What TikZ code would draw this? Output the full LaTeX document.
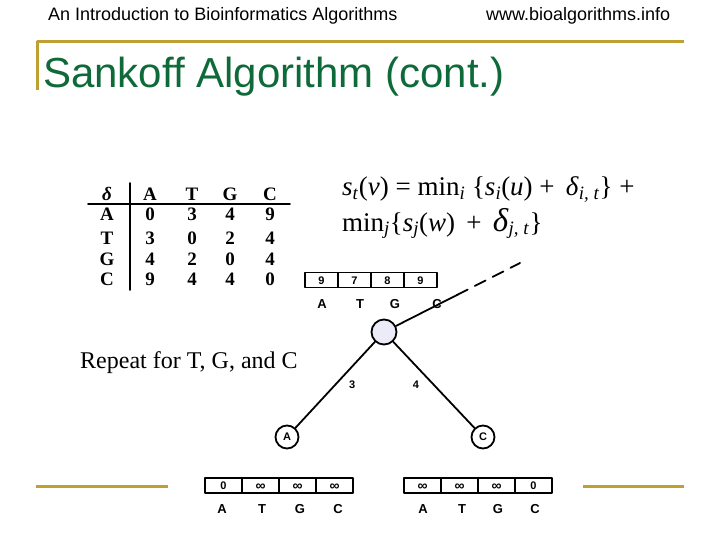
\documentclass[tikz,border=0pt]{standalone}
\usepackage{fontspec}
\setmainfont{Liberation Serif}
\setsansfont{Liberation Sans}
\usetikzlibrary{positioning}
\definecolor{slidegold}{RGB}{192,160,48}
\definecolor{slidegreen}{RGB}{15,106,58}
\definecolor{rootfill}{RGB}{236,236,248}
\newcommand{\fs}[1]{\fontsize{#1}{#1}\selectfont}
\newcommand{\sub}[1]{\textsubscript{\textit{#1}}}
\newcommand{\inft}{\raisebox{-1pt}{\fs{14}∞}}
\tikzset{
  txt/.style={inner sep=0pt, anchor=base west},
  tab/.style={inner sep=0pt, anchor=base, font=\fs{19}\bfseries},
  tnode/.style={circle, draw, line width=1.8pt, minimum size=23pt, inner sep=0pt, fill=white, font=\sffamily\bfseries\fs{11}},
  cell/.style={draw, line width=1.4pt, minimum height=15pt, inner sep=0pt, text height=8pt, text depth=0pt, font=\sffamily\bfseries\fs{11}},
  lbl/.style={inner sep=0pt, anchor=base, font=\sffamily\bfseries\fs{13}},
  edge/.style={line width=1.8pt},
  wlbl/.style={font=\sffamily\bfseries\fs{11}, inner sep=0pt}
}
\begin{document}
\begin{tikzpicture}[x=1pt,y=-1pt,line cap=round,line join=round]
\useasboundingbox[fill=white] (0,0) rectangle (720,540);
\node[txt, font=\sffamily\fs{18}] (hleft) at (48,21) {An Introduction to Bioinformatics Algorithms};
\node[txt, font=\sffamily\fs{18}] (hright) at (486,21) {www.bioalgorithms.info};
\draw[slidegold, line width=3pt, line cap=butt] (37,90) -- (37,42) -- (684,42);
\draw[slidegold, line width=3pt, line cap=butt] (36,486) -- (168,486);
\draw[slidegold, line width=3pt, line cap=butt] (583,486) -- (684,486);
\node[txt, font=\sffamily\fs{42}, text=slidegreen] (title) at (43,88) {Sankoff Algorithm (cont.)};
\node[tab] (d0) at (107,201) {\textit{δ}};
\foreach \name/\x in {A/150,T/192,G/230,C/270}
  \node[tab] (h\name) at (\x,201) {\name};
\foreach \name/\y/\a/\t/\g/\c in {A/221/0/3/4/9,T/244/3/0/2/4,G/265/4/2/0/4,C/285/9/4/4/0} {
  \node[tab] (r\name) at (107,\y) {\name};
  \node[tab] at (150,\y) {\a};
  \node[tab] at (192,\y) {\t};
  \node[tab] at (230,\y) {\g};
  \node[tab] at (270,\y) {\c};
}
\draw[line width=1.8pt] (130,183) -- (130,290);
\draw[line width=1.8pt] (88,204) -- (290,204);
\node[txt, font=\fs{27}] (f1) at (342,196) {\textit{s}\sub{t}(\textit{v}) = min\sub{i} \{\textit{s}\sub{i}(\textit{u}) + \,\textit{δ}\sub{i, t}\} +};
\node[txt, font=\fs{27}] (f2) at (342,231) {min\sub{j}\{\textit{s}\sub{j}(\textit{w}) \,+\, {\fs{33}\textit{δ}}\sub{j, t}\}};
\node[txt, font=\fs{24}] (repeat) at (80,368) {Repeat for T, G, and C};
\node[tnode, fill=rootfill, minimum size=25pt] (root) at (384,332) {};
\node[tnode] (nA) at (287,437) {A};
\node[tnode] (nC) at (483,437) {C};
\draw[edge] (root) -- (nA) node[wlbl, pos=0.5, right=13pt] {3};
\draw[edge] (root) -- (nC) node[wlbl, pos=0.5, left=14pt] {4};
\coordinate (mid) at (457,295);
\coordinate (up) at (520,263);
\foreach \v [count=\i] in {9,7,8,9}
  \node[cell, minimum width=33pt] (top\i) at (305+33*\i-16.5,280) {\v};
\foreach \l/\x in {A/322,T/360,G/395,C/437}
  \node[lbl] (tl\l) at (\x,308) {\l};
\draw[edge] (root) -- (mid);
\draw[edge, dash pattern=on 12pt off 8pt] (mid) -- (up);
\foreach \v [count=\i] in {0,\inft,\inft,\inft}
  \node[cell, minimum width=37pt] (bl\i) at (205+37*\i-18.5,485.5) {\v};
\foreach \v [count=\i] in {\inft,\inft,\inft,0}
  \node[cell, minimum width=37pt] (br\i) at (404+37*\i-18.5,485.5) {\v};
\foreach \l/\x in {A/222,T/262,G/300,C/338}
  \node[lbl] (bll\l) at (\x,513) {\l};
\foreach \l/\x in {A/423,T/462,G/498,C/535}
  \node[lbl] (brl\l) at (\x,513) {\l};
\end{tikzpicture}
\end{document}
